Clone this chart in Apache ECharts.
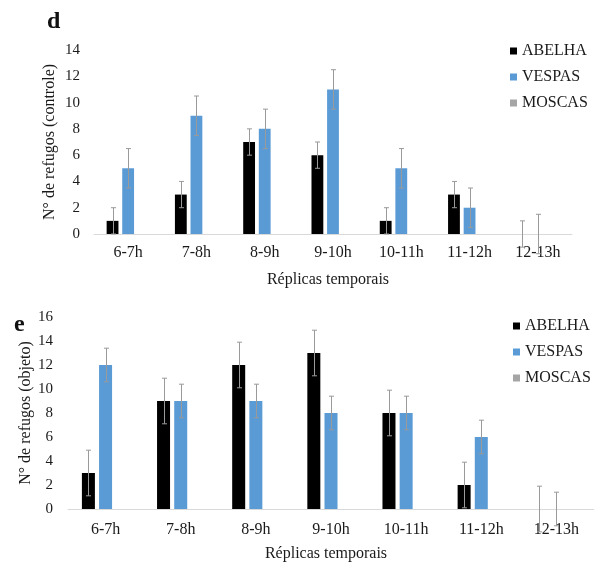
<!DOCTYPE html>
<html>
<head>
<meta charset="utf-8">
<script src="https://cdn.jsdelivr.net/npm/echarts@6/dist/echarts.min.js"></script>
<style>
  html, body { margin: 0; padding: 0; background: #ffffff; }
  #chart { width: 594px; height: 563px; }
</style>
</head>
<body>
<div id="chart"></div>
<script>
// ---- data ----
const categories = ['6-7h', '7-8h', '8-9h', '9-10h', '10-11h', '11-12h', '12-13h'];
const seriesNames = ['ABELHA', 'VESPAS', 'MOSCAS'];

// panel d: controle
const abelhaControle = [1, 3, 7, 6, 1, 3, 0];
const vespasControle = [5, 9, 8, 11, 5, 2, 0];
const moscasControle = [0, 0, 0, 0, 0, 0, 0];
const abelhaErrControle = [1, 1, 1, 1, 1, 1, 1];
const vespasErrControle = [1.5, 1.5, 1.5, 1.5, 1.5, 1.5, 1.5];

// panel e: objeto
const abelhaObjeto = [3, 9, 12, 13, 8, 2, 0];
const vespasObjeto = [12, 9, 9, 8, 8, 6, 0];
const moscasObjeto = [0, 0, 0, 0, 0, 0, 0];
const abelhaErrObjeto = [1.9, 1.9, 1.9, 1.9, 1.9, 1.9, 1.9];
const vespasErrObjeto = [1.4, 1.4, 1.4, 1.4, 1.4, 1.4, 1.4];

const yTitleTop = 'N° de refugos (controle)';
const yTitleBottom = 'N° de refugos (objeto)';
const xTitle = 'Réplicas temporais';

// ---- styling ----
const FONT = "'Liberation Serif', 'Times New Roman', serif";
const TXT = '#1a1a1a';
const COLORS = ['#000000', '#5B9BD5', '#A5A5A5'];
const BAR_GAP = 0.32;
const CAT_GAP = 0.37;
const ERR_COLOR = '#9a9a9a';

function errorSeries(values, errs, pos, axisIdx) {
  return {
    type: 'custom',
    xAxisIndex: axisIdx,
    yAxisIndex: axisIdx,
    silent: true,
    clip: false,
    z: 5,
    data: values.map((v, i) => [i, v, errs[i], pos]),
    renderItem: function (params, api) {
      const idx = api.value(0), val = api.value(1), err = api.value(2), p = api.value(3);
      const band = api.size([1, 0])[0];
      const bw = band * (1 - CAT_GAP) / (3 + 2 * BAR_GAP);
      const dx = p * bw * (1 + BAR_GAP);
      const top = api.coord([idx, val + err]);
      const bot = api.coord([idx, val - err]);
      const x = Math.round(top[0] + dx) + 0.5;
      const cap = 2.5;
      const style = { stroke: ERR_COLOR, lineWidth: 1 };
      return {
        type: 'group',
        children: [
          { type: 'line', shape: { x1: x, y1: top[1], x2: x, y2: bot[1] }, style: style },
          { type: 'line', shape: { x1: x - cap, y1: top[1], x2: x + cap, y2: top[1] }, style: style },
          { type: 'line', shape: { x1: x - cap, y1: bot[1], x2: x + cap, y2: bot[1] }, style: style }
        ]
      };
    }
  };
}

function barSeries(name, data, idx, axisIdx) {
  return {
    name: name,
    type: 'bar',
    xAxisIndex: axisIdx,
    yAxisIndex: axisIdx,
    data: data,
    barGap: (BAR_GAP * 100) + '%',
    barCategoryGap: (CAT_GAP * 100) + '%',
    itemStyle: { color: COLORS[idx] },
    emphasis: { disabled: true }
  };
}

function xAxisDef(gridIndex, labelMargin, nameGap) {
  return {
    type: 'category',
    gridIndex: gridIndex,
    data: categories,
    axisLine: { show: true, lineStyle: { color: '#d9d9d9', width: 1 } },
    axisTick: { show: false },
    axisLabel: { color: TXT, fontFamily: FONT, fontSize: 16, margin: labelMargin, interval: 0 },
    name: xTitle,
    nameLocation: 'middle',
    nameGap: nameGap,
    nameTextStyle: { color: TXT, fontFamily: FONT, fontSize: 16, padding: [0, 10, 0, 0] }
  };
}

function yAxisDef(gridIndex, max, title, labelMargin, nameGap) {
  return {
    type: 'value',
    gridIndex: gridIndex,
    min: 0,
    max: max,
    interval: 2,
    axisLine: { show: false },
    axisTick: { show: false },
    splitLine: { show: false },
    axisLabel: { color: TXT, fontFamily: FONT, fontSize: 15, margin: labelMargin },
    name: title,
    nameLocation: 'middle',
    nameGap: nameGap,
    nameMoveOverlap: false,
    nameTextStyle: { color: TXT, fontFamily: FONT, fontSize: 16 }
  };
}

function legendDef(left, top) {
  return {
    orient: 'vertical',
    left: left,
    top: top,
    icon: 'rect',
    itemWidth: 7,
    itemHeight: 7,
    itemGap: 10,
    data: seriesNames,
    textStyle: { color: TXT, fontFamily: FONT, fontSize: 16 }
  };
}

const chart = echarts.init(document.getElementById('chart'), null, { renderer: 'canvas' });
chart.setOption({
  animation: false,
  backgroundColor: '#ffffff',
  title: [
    { text: 'd', left: 42, top: 5, textStyle: { fontFamily: FONT, fontWeight: 'bold', fontSize: 24, color: '#111' } },
    { text: 'e', left: 9, top: 308, textStyle: { fontFamily: FONT, fontWeight: 'bold', fontSize: 24, color: '#111' } }
  ],
  legend: [legendDef(505, 38), legendDef(508, 313)],
  grid: [
    { left: 94, top: 50, width: 478, height: 184 },
    { left: 68, top: 317, width: 526, height: 194 }
  ],
  xAxis: [xAxisDef(0, 11, 38), xAxisDef(1, 13, 37)],
  yAxis: [
    yAxisDef(0, 14, yTitleTop, 14, 36),
    yAxisDef(1, 16, yTitleBottom, 15, 34)
  ],
  series: [
    barSeries('ABELHA', abelhaControle, 0, 0),
    barSeries('VESPAS', vespasControle, 1, 0),
    barSeries('MOSCAS', moscasControle, 2, 0),
    barSeries('ABELHA', abelhaObjeto, 0, 1),
    barSeries('VESPAS', vespasObjeto, 1, 1),
    barSeries('MOSCAS', moscasObjeto, 2, 1),
    errorSeries(abelhaControle, abelhaErrControle, -1, 0),
    errorSeries(vespasControle, vespasErrControle, 0, 0),
    errorSeries(abelhaObjeto, abelhaErrObjeto, -1, 1),
    errorSeries(vespasObjeto, vespasErrObjeto, 0, 1)
  ]
});
</script>
</body>
</html>
